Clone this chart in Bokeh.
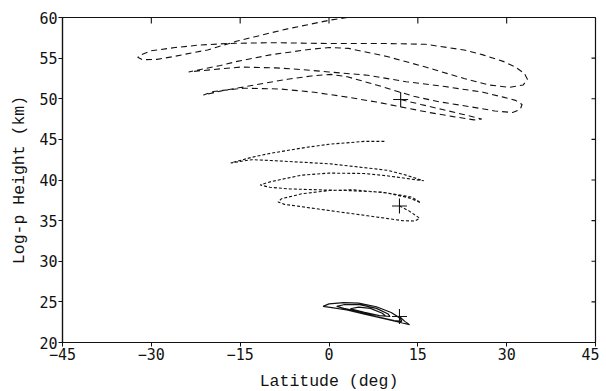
import math
from bokeh.plotting import figure
from bokeh.models import FixedTicker, Range1d
from bokeh.embed import file_html
from bokeh.resources import INLINE

# ---- data (latitude deg, log-p height km) ----
dashed_lat = [12.1, 15.5, 19.0, 22.5, 25.8,
              24.5, 21.0, 17.0, 12.1, 8.0, 3.1, -2.5, -8.2, -14.4, -19.5, -21.2,
              -18.0, -14.0, -11.0, -7.0, -3.0, 0.3, 3.1, 8.0, 14.3, 18.8, 24.0, 28.0, 31.0, 32.3, 32.6,
              31.5, 29.4, 26.0, 19.6, 13.0, 6.5, 0.0, -4.8, -9.0, -14.9, -19.5, -23.7,
              -18.3, -15.5, -12.7, -9.9, -7.0, -3.0, 0.0, 3.3, 9.8, 16.3, 22.8, 27.0, 30.5, 32.8, 33.5,
              33.0, 31.5, 29.4, 26.0, 22.8, 16.3, 9.8, 0.0, -9.8, -17.2, -22.0, -26.0, -30.1, -31.8, -32.3,
              -31.5, -29.0, -26.2, -22.8, -20.5, -15.5, -12.7, -9.9, -7.0, -3.0, 0.3, 3.1]
dashed_h = [49.9, 49.3, 48.7, 48.1, 47.5,
            47.4, 47.8, 48.3, 49.0, 49.6, 50.2, 50.8, 51.2, 51.3, 50.9, 50.45,
            51.0, 51.5, 51.9, 52.4, 52.8, 53.0, 52.7, 51.7, 50.3, 49.6, 49.0, 48.5, 48.3, 48.7, 49.3,
            49.8, 50.2, 50.8, 51.5, 52.1, 52.9, 53.3, 53.6, 53.8, 53.9, 53.6, 53.3,
            54.1, 54.6, 55.0, 55.4, 55.7, 56.1, 56.3, 56.2, 55.2, 53.9, 52.5, 51.7, 51.4, 51.7, 52.4,
            53.1, 53.9, 54.6, 55.4, 56.0, 56.7, 56.8, 56.8, 56.9, 56.8, 56.6, 56.3, 55.9, 55.4, 55.1,
            54.8, 54.85, 55.2, 55.7, 56.0, 57.1, 57.6, 58.1, 58.6, 59.2, 59.7, 60.0]

dotted_lat = [11.9, 13.5, 15.3,
              14.5, 12.4, 6.5, 0.0, -5.0, -7.5, -8.6,
              -8.0, -4.6, 0.0, 4.0, 9.8, 13.5, 15.5,
              14.0, 9.0, 3.0, -2.0, -6.6, -10.0, -11.6,
              -9.8, -4.6, 0.0, 5.9, 10.0, 14.0, 16.0,
              13.0, 9.8, 5.0, 0.0, -9.8, -13.0, -16.6,
              -13.0, -9.8, -4.0, 0.0, 5.9, 9.6]
dotted_h = [36.8, 36.2, 35.3,
            34.95, 35.0, 35.6, 36.25, 36.75, 37.0, 37.3,
            37.7, 38.3, 38.7, 38.8, 38.4, 37.8, 37.2,
            37.9, 38.5, 38.7, 38.8, 38.9, 39.1, 39.4,
            39.8, 40.6, 40.85, 40.8, 40.5, 40.1, 39.9,
            40.6, 41.2, 41.6, 42.0, 42.4, 42.5, 42.1,
            42.8, 43.3, 44.0, 44.4, 44.75, 44.75]

solid_lat = [11.9, 12.8, 13.6, 12.4, 9.5, 6.0, 3.0, 0.5, -1.0,
             0.0, 2.5, 5.0, 8.0, 10.5, 12.0, 12.3,
             11.0, 8.0, 5.0, 2.5, 1.3,
             2.5, 5.0, 8.0, 10.0, 10.3,
             8.5, 6.0, 3.6,
             5.0, 7.0, 9.0, 9.5]
solid_h = [23.2, 22.6, 22.2, 22.4, 22.9, 23.5, 24.0, 24.3, 24.45,
           24.75, 24.9, 24.85, 24.4, 23.7, 23.0, 22.6,
           22.7, 23.2, 23.8, 24.2, 24.45,
           24.65, 24.7, 24.2, 23.5, 23.2,
           23.3, 23.7, 24.15,
           24.35, 24.2, 23.6, 23.3]

start_lat = [12.1, 11.9, 11.9]
start_h = [49.9, 36.8, 23.2]

x_ticks = [-45, -30, -15, 0, 15, 30, 45]
y_ticks = [20, 25, 30, 35, 40, 45, 50, 55, 60]

TICK_FONT = "DejaVu Sans Mono"
TITLE_FONT = "Liberation Mono"
INK = "#111111"

p = figure(output_backend="svg", toolbar_location=None,
           frame_width=533, frame_height=325,
           x_range=Range1d(x_ticks[0], x_ticks[-1]), y_range=Range1d(y_ticks[0], y_ticks[-1]),
           min_border_left=62, min_border_right=4,
           min_border_top=17, min_border_bottom=46,
           background_fill_color="white", border_fill_color="white")
p.grid.visible = False
p.outline_line_color = INK
p.outline_line_width = 1.2

xa = p.xaxis[0]
xa.ticker = FixedTicker(ticks=x_ticks)
xa.axis_label = "Latitude (deg)"
ya = p.yaxis[0]
ya.ticker = FixedTicker(ticks=y_ticks)
ya.axis_label = "Log-p Height (km)"

for ax in (xa, ya):
    ax.minor_tick_line_color = None
    ax.major_tick_in = 0
    ax.major_tick_out = 4
    ax.axis_line_color = INK
    ax.axis_line_width = 1.2
    ax.major_tick_line_color = INK
    ax.major_label_text_font = TICK_FONT
    ax.major_label_text_font_size = "15px"
    ax.major_label_text_color = INK
    ax.axis_label_text_font = TITLE_FONT
    ax.axis_label_text_font_size = "16.5px"
    ax.axis_label_text_font_style = "normal"
    ax.axis_label_text_color = INK
xa.major_label_standoff = 1
xa.axis_label_standoff = 9
ya.major_label_standoff = 1
ya.axis_label_standoff = 7

# inward ticks on the top and right edges, at the inner tick values
top_x = x_ticks[1:-1]
right_y = y_ticks[1:-1]
p.ray(x=top_x, y=[y_ticks[-1]] * len(top_x), length=6, length_units="screen",
      angle=-math.pi / 2, line_color=INK, line_width=1.1)
p.ray(x=[x_ticks[-1]] * len(right_y), y=right_y, length=4, length_units="screen",
      angle=math.pi, line_color=INK, line_width=1.1)

p.line(dashed_lat, dashed_h, line_color=INK, line_width=1.1, line_dash="6 4")
p.line(dotted_lat, dotted_h, line_color=INK, line_width=1.1, line_dash="3 2")
p.line(solid_lat, solid_h, line_color=INK, line_width=1.2)
p.scatter(start_lat, start_h, marker="cross", size=15, line_color=INK, line_width=1.1)

open("out.html", "w").write(file_html(p, INLINE))
